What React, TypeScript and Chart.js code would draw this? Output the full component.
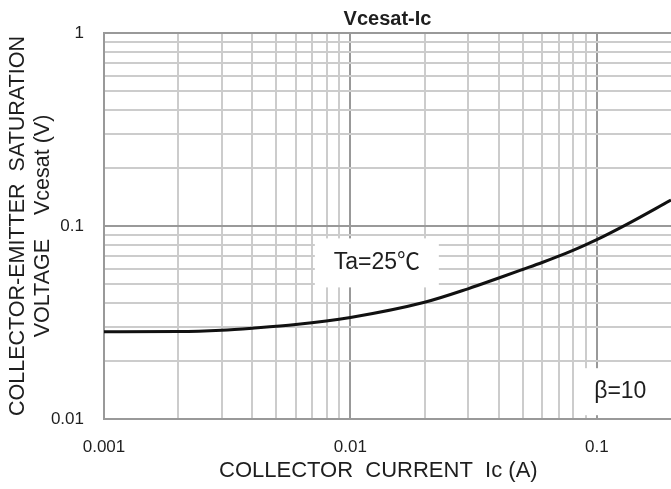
import React, { useEffect, useRef } from "react";
import { Chart, registerables } from "chart.js";

Chart.register(...registerables);

// ---- data ----
const collectorCurrent = [0.001, 0.002, 0.003, 0.004, 0.006, 0.01, 0.02, 0.03, 0.04, 0.05, 0.06, 0.07, 0.08, 0.09, 0.1, 0.13, 0.2];
const vcesat = [0.02833, 0.0284, 0.02884, 0.02954, 0.03084, 0.03357, 0.04024, 0.04727, 0.05376, 0.0595, 0.06468, 0.06976, 0.07482, 0.0799, 0.08493, 0.10072, 0.1362];

const xDecades = [0.001, 0.01, 0.1];
const xTickLabels = ["0.001", "0.01", "0.1"];
const yDecades = [0.01, 0.1, 1];
const yTickLabels = ["0.01", "0.1", "1"];
const minorSteps = [1, 2, 3, 4, 5, 6, 7, 8, 9];

const annotationTexts = ["Ta=25\u2103", "\u03B2=10"];
const annotationX = [0.0128, 0.1245];
const annotationY = [0.0644, 0.01385];

const chartTitle = "Vcesat-Ic";
const xTitle = "COLLECTOR  CURRENT  Ic (A)   ";
const yTitle = ["COLLECTOR-EMITTER  SATURATION", "VOLTAGE    Vcesat (V)"];

// ---- styles ----
const FONT = '"Liberation Sans", Arial, "Noto Sans CJK SC", sans-serif';
const TEXT = "#1e1e1e";
const MINOR = "#cccccc";
const MAJOR = "#999999";
const annotationBoxes = [
  [124, 49],
  [82, 47],
];

function gridValues(decades: number[], max: number) {
  const out: number[] = [];
  decades.forEach((d) => {
    minorSteps.forEach((k) => {
      const v = +(d * k).toPrecision(6);
      if (v < max - 1e-12) out.push(v);
    });
  });
  return out;
}

const isMajor = (v: number) => {
  const l = Math.log10(v);
  return Math.abs(l - Math.round(l)) < 1e-9;
};

const labelPlugin = {
  id: "boxLabels",
  beforeDatasetsDraw(chart: any) {
    const { ctx, scales } = chart;
    const xs = scales.x;
    const ys = scales.y;
    annotationTexts.forEach((t, i) => {
      const px = xs.getPixelForValue(annotationX[i]);
      const py = ys.getPixelForValue(annotationY[i]);
      const [w, h] = annotationBoxes[i];
      ctx.save();
      ctx.fillStyle = "#ffffff";
      ctx.fillRect(px - w / 2, py - h / 2, w, h);
      ctx.fillStyle = TEXT;
      ctx.font = `23px ${FONT}`;
      ctx.textAlign = "center";
      ctx.textBaseline = "middle";
      ctx.fillText(t, px, py);
      ctx.restore();
    });
  },
};

export default function App() {
  const ref = useRef<HTMLCanvasElement | null>(null);

  useEffect(() => {
    if (!ref.current) return;
    const xGrid = gridValues([0.001, 0.01], 0.2).concat([0.1]);
    const yGrid = gridValues([0.01, 0.1], 1).concat([1]);

    const chart = new Chart(ref.current, {
      type: "scatter",
      data: {
        datasets: [
          {
            data: collectorCurrent.map((x, i) => ({ x, y: vcesat[i] })),
            showLine: true,
            borderColor: "#111111",
            borderWidth: 3,
            pointRadius: 0,
            cubicInterpolationMode: "monotone",
          } as any,
        ],
      },
      options: {
        animation: false,
        responsive: false,
        events: [],
        layout: { padding: 0 },
        plugins: {
          legend: { display: false },
          tooltip: { enabled: false },
          title: {
            display: true,
            text: chartTitle,
            fullSize: false,
            color: TEXT,
            font: { family: FONT, size: 20, weight: "bold", lineHeight: 1.2 },
            padding: { top: 7, bottom: 2 },
          },
        },
        scales: {
          x: {
            type: "logarithmic",
            min: 0.001,
            max: 0.2,
            afterBuildTicks: (scale: any) => {
              scale.ticks = xGrid.map((v) => ({ value: v }));
            },
            afterFit: (scale: any) => {
              scale.height = 70;
            },
            grid: {
              drawTicks: false,
              color: (c: any) => (c.tick && isMajor(c.tick.value) ? MAJOR : MINOR),
              lineWidth: 2,
            },
            border: { color: MAJOR, width: 2 },
            ticks: {
              autoSkip: false,
              maxRotation: 0,
              padding: 18,
              color: TEXT,
              font: { family: FONT, size: 17 },
              callback: (v: any) => {
                const idx = xDecades.indexOf(Number(v));
                return idx >= 0 ? xTickLabels[idx] : "";
              },
            },
            title: {
              display: true,
              text: xTitle,
              color: TEXT,
              font: { family: FONT, size: 22, lineHeight: 1.2 },
              padding: { top: 0, bottom: 5 },
            },
          },
          y: {
            type: "logarithmic",
            min: 0.01,
            max: 1,
            afterBuildTicks: (scale: any) => {
              scale.ticks = yGrid.map((v) => ({ value: v }));
            },
            afterFit: (scale: any) => {
              scale.width = 104;
            },
            grid: {
              drawTicks: false,
              color: (c: any) => (c.tick && isMajor(c.tick.value) ? MAJOR : MINOR),
              lineWidth: 2,
            },
            border: { color: MAJOR, width: 2 },
            ticks: {
              autoSkip: false,
              padding: 20,
              color: TEXT,
              font: { family: FONT, size: 17 },
              callback: (v: any) => {
                const idx = yDecades.indexOf(Number(v));
                return idx >= 0 ? yTickLabels[idx] : "";
              },
            },
            title: {
              display: true,
              text: yTitle,
              color: TEXT,
              font: { family: FONT, size: 21.5, lineHeight: 1.16 },
              padding: { top: 6, bottom: 0 },
            },
          },
        },
      } as any,
      plugins: [labelPlugin],
    });
    return () => chart.destroy();
  }, []);

  return (
    <div style={{ position: "fixed", left: 0, top: 0, width: 671, height: 489, background: "#fff" }}>
      <canvas ref={ref} width={671} height={489} />
    </div>
  );
}
